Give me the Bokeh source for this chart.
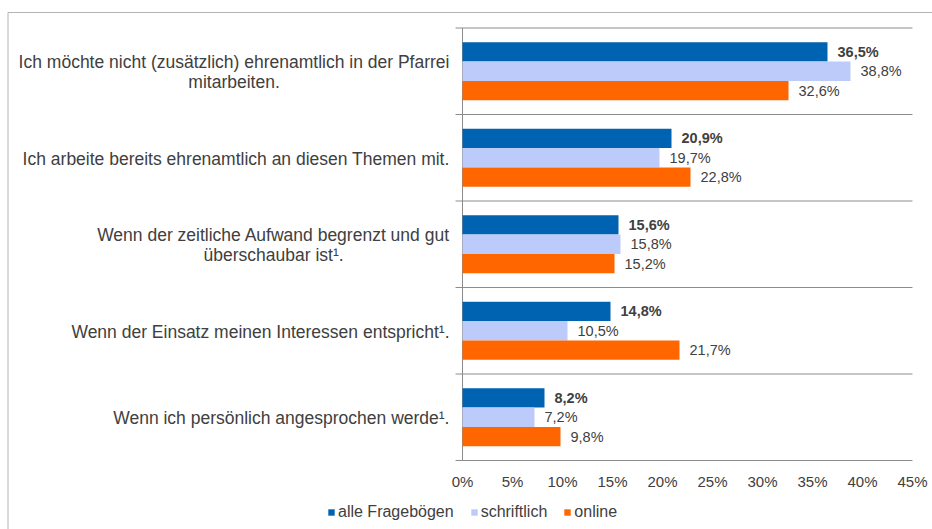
import glob
from bokeh.plotting import figure
from bokeh.models import Range1d, LinearAxis, FixedTicker, Legend, LegendItem, ColumnDataSource
from bokeh.core.properties import value
from bokeh.embed import file_html
from bokeh.resources import INLINE

# ---------------- data ----------------
categories = [
    "Ich möchte nicht (zusätzlich) ehrenamtlich in der Pfarrei\nmitarbeiten.",
    "Ich arbeite bereits ehrenamtlich an diesen Themen mit.",
    "Wenn der zeitliche Aufwand begrenzt und gut\nüberschaubar ist¹.",
    "Wenn der Einsatz meinen Interessen entspricht¹.",
    "Wenn ich persönlich angesprochen werde¹.",
]
series_names = ["alle Fragebögen", "schriftlich", "online"]
alle_frageboegen = [36.5, 20.9, 15.6, 14.8, 8.2]
schriftlich = [38.8, 19.7, 15.8, 10.5, 7.2]
online = [32.6, 22.8, 15.2, 21.7, 9.8]
x_ticks = [0, 5, 10, 15, 20, 25, 30, 35, 40, 45]
x_tick_labels = ["0%", "5%", "10%", "15%", "20%", "25%", "30%", "35%", "40%", "45%"]

series_values = [alle_frageboegen, schriftlich, online]
colors = ["#0063B1", "#BDCBFB", "#FF6600"]
TEXT = "#404040"
LINE = "#8c8c8c"
FONT = "Liberation Sans"

# ---------------- layout ----------------
W, H = 932, 529
PAGE = 0                 # canvas offset on the page
X0_PAGE = 462            # page x of 0 %
PX_PER_PCT = 10.0
TOP_PAGE = 27.5          # page y of top category boundary
CAT_PX = 86.5
n = len(categories)
c0 = TOP_PAGE + CAT_PX / 2


def y_of(page_y):
    return (n - 1) - (page_y - c0) / CAT_PX


def x_of(page_x):
    return (page_x - X0_PAGE) / PX_PER_PCT


p = figure(width=W, height=H,
           x_range=Range1d(x_of(PAGE), x_of(PAGE + W)),
           y_range=Range1d(y_of(PAGE + H), y_of(PAGE)),
           output_backend="svg", toolbar_location=None,
           x_axis_type=None, y_axis_type=None, min_border=0)
p.outline_line_color = None
p.background_fill_color = "white"

# outer border of chart area
p.segment(x0=[x_of(7.5), x_of(7.5)], y0=[y_of(12), y_of(12)],
          x1=[x_of(PAGE + W), x_of(7.5)], y1=[y_of(12), y_of(PAGE + H)],
          line_color="#b4b4b4", line_width=1)

# category boundaries (horizontal lines), tick marks and axis line
bounds = [i - 0.5 for i in range(n + 1)]
p.segment(x0=[0] * len(bounds), x1=[x_ticks[-1]] * len(bounds), y0=bounds, y1=bounds,
          line_color=LINE, line_width=1)
p.segment(x0=[-0.7] * len(bounds), x1=[0] * len(bounds), y0=bounds, y1=bounds,
          line_color=LINE, line_width=1)
p.segment(x0=[0], x1=[0], y0=[bounds[0]], y1=[bounds[-1]], line_color=LINE, line_width=1)

# bars
BAR_STEP = 0.224
offsets = [BAR_STEP, 0.0, -BAR_STEP]
renderers = []
for j, vals in enumerate(series_values):
    ys = [(n - 1 - i) + offsets[j] for i in range(n)]
    src = ColumnDataSource(dict(y=ys, right=vals,
                                lx=[v + 1.0 for v in vals],
                                lab=[("%.1f%%" % v).replace(".", ",") for v in vals]))
    r = p.hbar(y="y", left=0, right="right", height=BAR_STEP, source=src,
               fill_color=colors[j], line_color=None)
    renderers.append(r)
    p.text(x="lx", y="y", text="lab", source=src, text_align="left", text_baseline="middle",
           text_font=value(FONT), text_font_size="14.5px", text_color=TEXT,
           text_font_style="bold" if j == 0 else "normal")

# category labels (right-aligned block, lines centred within the block)
CAT_FONT_PX = 17.5


def text_width(s, size):
    try:
        from PIL import ImageFont
        paths = glob.glob("/usr/share/fonts/**/LiberationSans-Regular.ttf", recursive=True)
        try:
            f = ImageFont.truetype(paths[0], size)
        except Exception:
            f = ImageFont.truetype(paths[0], int(round(size)))
        return f.getlength(s)
    except Exception:
        return 0.5 * size * len(s)


RIGHT_PAGE = 449
LINE_PX = 20
lx, ly, lt = [], [], []
for i, lab in enumerate(categories):
    lines = lab.split("\n")
    maxw = max(text_width(s, CAT_FONT_PX) for s in lines)
    cx = x_of(RIGHT_PAGE - maxw / 2)
    cy_page = c0 + CAT_PX * i + 1
    for k, s in enumerate(lines):
        off = (k - (len(lines) - 1) / 2) * LINE_PX
        lx.append(cx)
        ly.append(y_of(cy_page + off))
        lt.append(s)
p.text(x=lx, y=ly, text=lt, text_align="center", text_baseline="middle",
       text_font=value(FONT), text_font_size="%gpx" % CAT_FONT_PX, text_color=TEXT)

# x axis drawn at the bottom boundary
xaxis = LinearAxis(ticker=FixedTicker(ticks=x_ticks), fixed_location=bounds[0],
                   axis_line_color=None, major_tick_line_color=None, minor_tick_line_color=None,
                   major_tick_out=0, major_tick_in=0, minor_tick_out=0, minor_tick_in=0,
                   major_label_standoff=12, major_label_text_font_size="15px",
                   major_label_text_color=TEXT, major_label_text_font=FONT,
                   major_label_overrides={t: l for t, l in zip(x_ticks, x_tick_labels)})
p.add_layout(xaxis, "below")

legend = Legend(items=[LegendItem(label=nm, renderers=[r]) for nm, r in zip(series_names, renderers)],
                orientation="horizontal", location=(327 - PAGE, (PAGE + H) - 521),
                glyph_width=8, glyph_height=8, label_standoff=3, spacing=16,
                padding=0, margin=0, label_height=16,
                label_text_font=FONT, label_text_font_size="16px", label_text_color=TEXT,
                background_fill_alpha=0, border_line_color=None)
p.add_layout(legend)

open("out.html", "w").write(file_html(p, INLINE))
